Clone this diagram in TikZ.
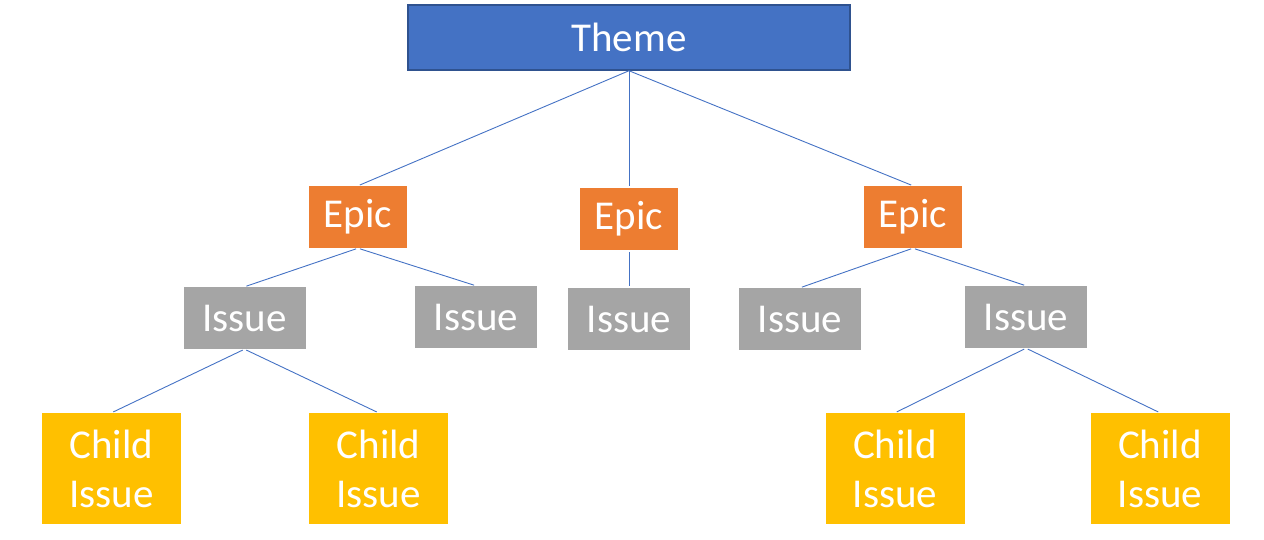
\documentclass[tikz,border=0pt]{standalone}
\usepackage{fontspec}
\setmainfont{Carlito}
\usetikzlibrary{positioning}
\definecolor{themeblue}{HTML}{4472C4}
\definecolor{themeedge}{HTML}{2F528F}
\definecolor{epicorange}{HTML}{ED7D31}
\definecolor{issuegray}{HTML}{A5A5A5}
\definecolor{childgold}{HTML}{FFC000}
\begin{document}
\begin{tikzpicture}[
  x=1pt, y=-1pt,
  box/.style={inner sep=0pt, text=white, align=center,
              font=\fontsize{41}{49}\selectfont},
  theme/.style={box, fill=themeblue, draw=themeedge, line width=1.5pt,
                minimum width=442pt, minimum height=65pt},
  epic/.style={box, fill=epicorange, minimum width=98pt, minimum height=62pt},
  issue/.style={box, fill=issuegray, minimum width=122pt, minimum height=62pt},
  child/.style={box, fill=childgold, minimum width=139pt, minimum height=111pt},
  link/.style={draw=themeblue, line width=0.9pt, shorten >=2pt}
]
  \useasboundingbox (0,0) rectangle (1264,540);

  % Top
  \node[theme] (theme) at (629, 37.5) {Theme};

  % Epics
  \node[epic] (epicA) at (358, 217) {Epic};
  \node[epic] (epicB) at (629, 219) {Epic};
  \node[epic] (epicC) at (913, 217) {Epic};

  % Issues
  \node[issue] (issueA) at (244.5, 318) {Issue};
  \node[issue] (issueB) at (476, 317) {Issue};
  \node[issue] (issueC) at (629, 319) {Issue};
  \node[issue] (issueD) at (800, 319) {Issue};
  \node[issue] (issueE) at (1026, 317) {Issue};

  % Child issues
  \node[child] (childA) at (111.5, 468.5) {Child\\Issue};
  \node[child] (childB) at (378.5, 468.5) {Child\\Issue};
  \node[child] (childC) at (895, 468.5) {Child\\Issue};
  \node[child] (childD) at (1160, 468.5) {Child\\Issue};

  % Links
  \foreach \e in {epicA, epicB, epicC}
    \draw[link] (theme.south) -- (\e.north);
  \foreach \a/\b in {epicA/issueA, epicA/issueB, epicB/issueC,
                     epicC/issueD, epicC/issueE,
                     issueA/childA, issueA/childB,
                     issueE/childC, issueE/childD}
    \draw[link, shorten <=2pt] (\a.south) -- (\b.north);
\end{tikzpicture}
\end{document}
